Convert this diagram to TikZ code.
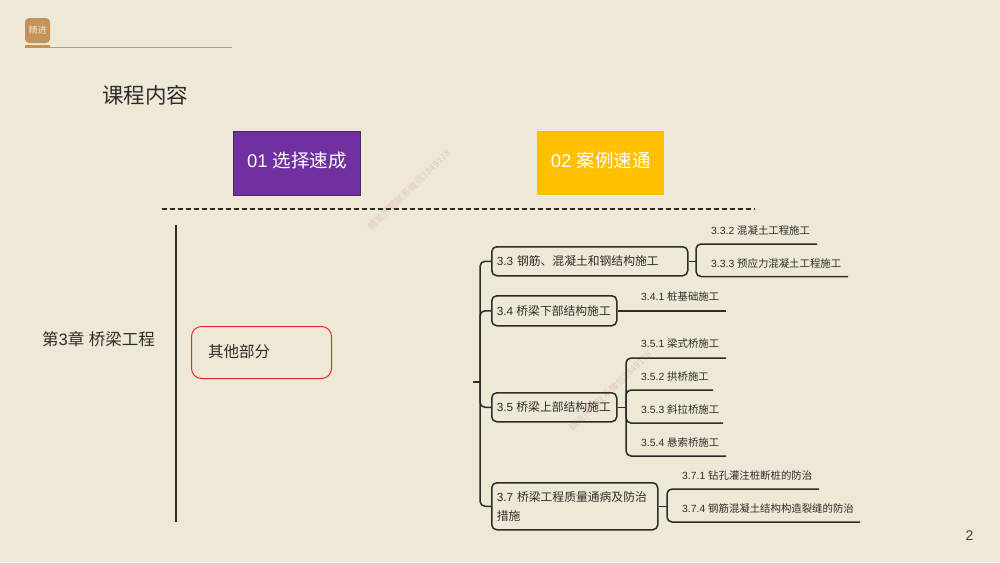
\documentclass[tikz,border=0pt]{standalone}
\usepackage{fontspec}
\setmainfont{Liberation Sans}
\newfontfamily\cjk{Noto Sans CJK SC}
\usetikzlibrary{calc}
\definecolor{bgc}{HTML}{EEE8D6}
\definecolor{ink}{HTML}{2E2C28}
\definecolor{logoc}{HTML}{C4935C}
\definecolor{wm}{HTML}{E6C9BC}
\definecolor{purp}{RGB}{112,48,160}
\definecolor{purpd}{RGB}{70,40,105}
\definecolor{amber}{RGB}{255,192,0}
\definecolor{redb}{RGB}{230,40,40}
\newcommand{\fs}[1]{\fontsize{#1}{#1}\selectfont}
\tikzset{
  x=1pt,y=-1pt,
  topic/.style={draw=ink,line width=1.5pt,rounded corners=5pt,anchor=north west,inner sep=0pt,align=left,text=ink,font=\fs{11.8}},
  leaf/.style={anchor=west,inner sep=0pt,text=ink,font=\fs{10.4}},
  conn/.style={draw=ink,line width=1.5pt,rounded corners=5pt},
  head/.style={anchor=north west,inner sep=0pt,minimum width=127pt,minimum height=64pt,text=white,font=\fs{18.5},text height=9pt,text depth=0pt},
  wmark/.style={text=wm,font=\fs{9.3},inner sep=0pt,rotate=44}
}
\begin{document}
\begin{tikzpicture}
\useasboundingbox (0,0) rectangle (1000,562);
\fill[bgc] (0,0) rectangle (1000,562);
% logo
\coordinate (r1) at (50,47.3); \coordinate (r2) at (232,47.3);
\draw[draw=black!30!bgc,line width=1pt] (r1) -- (r2);
\fill[logoc] (25,45.3) rectangle (50,48.4);
\node[fill=logoc,rounded corners=4pt,minimum width=25pt,minimum height=25pt,inner sep=0pt,text=bgc,font=\fs{9}\cjk] (logo) at (37.5,30.5) {精进};
\node[anchor=west,inner sep=0pt,text=ink,font=\fs{21.5}\cjk] (title) at (102,95) {课程内容};
% header boxes
\node[head,fill=purp,draw=purpd,line width=0.8pt] (h1) at (233,131) {01 {\cjk 选择速成}};
\node[head,fill=amber] (h2) at (537,131) {02 {\cjk 案例速通}};
% watermarks
\node[wmark] (w1) at (409,190) {\cjk 精准押题联系微信3849178};
\node[wmark] (w2) at (610,391) {\cjk 精准押题联系微信3849178};
% dashed
\coordinate (d1) at (162,209); \coordinate (d2) at (755,209);
\draw[ink,line width=1.1pt,dash pattern=on 5pt off 3pt] (d1) -- (d2);
% chapter
\coordinate (v1) at (176,225); \coordinate (v2) at (176,522);
\draw[ink,line width=1.3pt] (v1) -- (v2);
\node[anchor=west,inner sep=0pt,text=ink,font=\fs{16.5}] (ch) at (42,339) {{\cjk 第}3{\cjk 章}\ {\cjk 桥梁工程}};
\node[draw=redb,line width=1pt,rounded corners=10pt,anchor=north west,minimum width=140pt,minimum height=52pt,inner sep=0pt] (red) at (191,326) {};
\node[anchor=west,inner sep=0pt,text=ink,font=\fs{15.5}\cjk] (other) at (208,352) {其他部分};
% topics
\node[topic,minimum width=196pt,minimum height=29pt,text width=186pt] (n33) at (491,246) {3.3 {\cjk 钢筋、混凝土和钢结构施工}};
\node[topic,minimum width=125pt,minimum height=30pt] (n34) at (491,295) {\makebox[115pt][l]{3.4 {\cjk 桥梁下部结构施工}}};
\node[topic,minimum width=125pt,minimum height=29pt] (n35) at (491,392) {\makebox[115pt][l]{3.5 {\cjk 桥梁上部结构施工}}};
\node[topic,minimum width=166pt,minimum height=47pt,text width=156pt] (n37) at (491,482) {3.7 {\cjk 桥梁工程质量通病及防治}\\[7pt]{\cjk 措施}};
% spine
\coordinate (sp) at (480,382); \coordinate (tick) at (473,382);
\draw[conn] (n33.west) -| (sp) |- (n37.west);
\draw[conn] (n34.west) -| (sp);
\draw[conn] (n35.west) -| (sp);
\draw[conn,rounded corners=0pt] (tick) -- (sp);
% leaves
\node[leaf] (a) at (711,230.5) {3.3.2 {\cjk 混凝土工程施工}};
\node[leaf] (b) at (711,264) {3.3.3 {\cjk 预应力混凝土工程施工}};
\node[leaf] (c) at (641,297) {3.4.1 {\cjk 桩基础施工}};
\node[leaf] (d) at (641,344) {3.5.1 {\cjk 梁式桥施工}};
\node[leaf] (e) at (641,377) {3.5.2 {\cjk 拱桥施工}};
\node[leaf] (f) at (641,410) {3.5.3 {\cjk 斜拉桥施工}};
\node[leaf] (g) at (641,443) {3.5.4 {\cjk 悬索桥施工}};
\node[leaf] (h) at (682,476) {3.7.1 {\cjk 钻孔灌注桩断桩的防治}};
\node[leaf] (i) at (682,509) {3.7.4 {\cjk 钢筋混凝土结构构造裂缝的防治}};
% leaf lines
\coordinate (j33) at (696,260.5);
\coordinate (la) at (817,244); \coordinate (lb) at (848,276.5);
\draw[conn] (n33.east) -- (n33.east -| j33);
\draw[conn] (la) -| (j33) |- (lb);
\coordinate (lc) at (726,310);
\draw[conn] (n34.east) -- (n34.east -| lc);
\coordinate (j35) at (626,406.5);
\coordinate (ld) at (726,358); \coordinate (le) at (713,390); \coordinate (lf) at (723,423); \coordinate (lg) at (726,456);
\draw[conn] (n35.east) -- (n35.east -| j35);
\draw[conn] (ld) -| (j35) |- (lg);
\draw[conn] (le) -| (j35);
\draw[conn] (lf) -| (j35);
\coordinate (j37) at (667,505.5);
\coordinate (lh) at (819,489); \coordinate (li) at (860,522);
\draw[conn] (n37.east) -- (n37.east -| j37);
\draw[conn] (lh) -| (j37) |- (li);
\node[inner sep=0pt,text=black!75,font=\fs{14}] (pg) at (969.5,536) {2};
\end{tikzpicture}
\end{document}
